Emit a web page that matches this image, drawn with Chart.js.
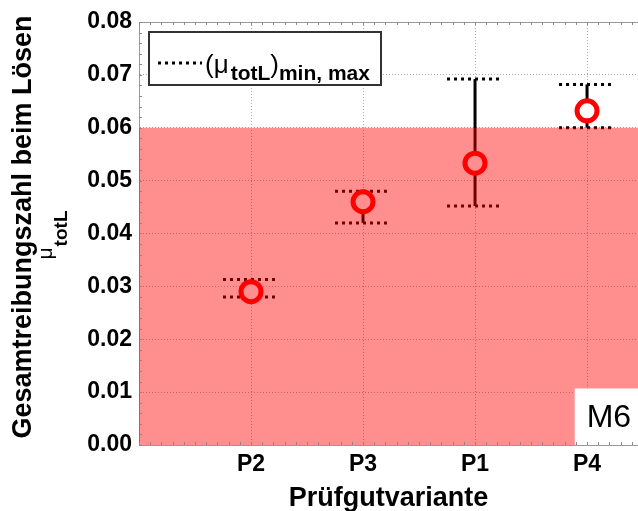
<!DOCTYPE html>
<html lang="de">
<head>
  <meta charset="UTF-8">
  <title>Gesamtreibungszahl beim Lösen</title>
  <script src="https://cdn.jsdelivr.net/npm/chart.js"></script>
  <style>
    html, body { margin: 0; padding: 0; background: #fff; }
    #wrap { width: 638px; height: 511px; position: relative; }
  </style>
</head>
<body>
  <div id="wrap"><canvas id="chart"></canvas></div>

  <script>
    // Werte
    const kategorien = ['P2', 'P3', 'P1', 'P4'];
    const mittelwerte = [0.029, 0.046, 0.0533, 0.0632];
    const minWerte = [0.028, 0.042, 0.0452, 0.060];
    const maxWerte = [0.0313, 0.048, 0.0692, 0.0682];
    const grenzwert = 0.06;
    const yTicks = [0, 0.01, 0.02, 0.03, 0.04, 0.05, 0.06, 0.07, 0.08];

    const X_MAX = 4.455;
    const FONT = '"Liberation Sans", Arial, sans-serif';

    // Fehlerbalken: senkrechte Linie + gepunktete Querstriche
    const fehlerbalken = {
      id: 'fehlerbalken',
      beforeDatasetDraw(chart, args) {
        if (args.index !== 1) return;
        const { ctx, scales: { x, y } } = chart;
        ctx.save();
        ctx.strokeStyle = '#000';
        ctx.lineWidth = 3;
        kategorien.forEach((k, i) => {
          const px = x.getPixelForValue(i + 1);
          const yMin = y.getPixelForValue(minWerte[i]);
          const yMax = y.getPixelForValue(maxWerte[i]);
          ctx.setLineDash([]);
          ctx.beginPath();
          ctx.moveTo(px, yMin);
          ctx.lineTo(px, yMax);
          ctx.stroke();
          const l = x.getPixelForValue(i + 1 - 0.25);
          const r = x.getPixelForValue(i + 1 + 0.25);
          ctx.setLineDash([3, 4]);
          [yMin, yMax].forEach(py => {
            ctx.beginPath();
            ctx.moveTo(l, py);
            ctx.lineTo(r, py);
            ctx.stroke();
          });
        });
        ctx.restore();
      }
    };

    // Rahmen, Nebenstriche, M6-Kasten, Legende und Achsentitel
    const deko = {
      id: 'deko',
      afterDraw(chart) {
        const { ctx, chartArea: a, scales: { x, y } } = chart;
        ctx.save();

        // M6 Kasten
        const bx = x.getPixelForValue(3.89);
        const by = y.getPixelForValue(0.0107);
        ctx.fillStyle = '#fff';
        ctx.fillRect(bx, by, a.right - bx, a.bottom - by);
        ctx.fillStyle = '#000';
        ctx.font = '32px ' + FONT;
        ctx.textBaseline = 'alphabetic';
        ctx.textAlign = 'left';
        ctx.fillText('M6', bx + 12, a.bottom - 18);

        // Rahmen oben
        ctx.strokeStyle = '#999';
        ctx.lineWidth = 1;
        ctx.beginPath();
        ctx.moveTo(a.left, a.top + 0.5);
        ctx.lineTo(a.right, a.top + 0.5);
        ctx.stroke();

        // Nebenstriche
        ctx.strokeStyle = '#888';
        ctx.beginPath();
        for (let v = 0; v <= X_MAX; v += 0.1) {
          const px = Math.round(x.getPixelForValue(v)) + 0.5;
          ctx.moveTo(px, a.bottom); ctx.lineTo(px, a.bottom - 3);
          ctx.moveTo(px, a.top); ctx.lineTo(px, a.top + 3);
        }
        for (let v = 0; v <= 0.0801; v += 0.002) {
          const py = Math.round(y.getPixelForValue(v)) + 0.5;
          ctx.moveTo(a.left, py); ctx.lineTo(a.left + 3, py);
        }
        ctx.stroke();

        // Legende
        ctx.fillStyle = '#fff';
        ctx.fillRect(149, 32, 232, 53);
        ctx.strokeStyle = '#333';
        ctx.lineWidth = 2;
        ctx.strokeRect(149, 32, 232, 53);
        ctx.strokeStyle = '#000';
        ctx.lineWidth = 3;
        ctx.setLineDash([3, 4]);
        ctx.beginPath();
        ctx.moveTo(158, 63);
        ctx.lineTo(202, 63);
        ctx.stroke();
        ctx.setLineDash([]);
        ctx.fillStyle = '#000';
        let tx = 205;
        ctx.font = '26px ' + FONT;
        ctx.fillText('(\u03BC', tx, 73);
        tx += ctx.measureText('(\u03BC').width + 2;
        ctx.font = 'bold 21px ' + FONT;
        ctx.fillText('totL', tx, 80);
        tx += ctx.measureText('totL').width;
        ctx.font = '26px ' + FONT;
        ctx.fillText(')', tx, 73);
        tx += ctx.measureText(')').width;
        ctx.font = 'bold 21px ' + FONT;
        ctx.fillText('min, max', tx, 80);

        // x-Achsentitel
        ctx.font = 'bold 27px ' + FONT;
        ctx.textAlign = 'center';
        ctx.fillText('Prüfgutvariante', (a.left + a.right) / 2, 506);

        // y-Achsentitel (zweizeilig, gedreht)
        ctx.save();
        ctx.translate(31, 227);
        ctx.rotate(-Math.PI / 2);
        ctx.font = 'bold 27px ' + FONT;
        ctx.fillText('Gesamtreibungszahl beim Lösen', 0, 0);
        ctx.restore();

        ctx.save();
        ctx.translate(0, 235);
        ctx.rotate(-Math.PI / 2);
        ctx.textAlign = 'left';
        ctx.font = '21px ' + FONT;
        const wMu = ctx.measureText('\u03BC').width;
        ctx.font = 'bold 19px ' + FONT;
        const wSub = ctx.measureText('totL').width;
        const start = -(wMu + wSub + 1) / 2;
        ctx.font = '21px ' + FONT;
        ctx.fillText('\u03BC', start, 52);
        ctx.font = 'bold 19px ' + FONT;
        ctx.fillText('totL', start + wMu + 1, 67);
        ctx.restore();

        ctx.restore();
      }
    };

    const ctx = document.getElementById('chart').getContext('2d');
    const chart = new Chart(ctx, {
      type: 'scatter',
      data: {
        datasets: [
          {
            type: 'line',
            data: [{ x: 0, y: grenzwert }, { x: X_MAX, y: grenzwert }],
            showLine: true,
            borderWidth: 0,
            pointRadius: 0,
            fill: 'origin',
            backgroundColor: 'rgba(255, 0, 0, 0.44)'
          },
          {
            data: kategorien.map((k, i) => ({ x: i + 1, y: mittelwerte[i] })),
            pointRadius: 10,
            pointBorderWidth: 5,
            borderColor: '#ff0000',
            backgroundColor: '#ffffff'
          }
        ]
      },
      options: {
        responsive: true,
        maintainAspectRatio: false,
        animation: false,
        layout: { autoPadding: false, padding: { top: 22, right: 0, left: 0, bottom: 0 } },
        plugins: {
          legend: { display: false },
          tooltip: { enabled: false }
        },
        scales: {
          x: {
            type: 'linear',
            min: 0,
            max: X_MAX,
            afterBuildTicks: s => { s.ticks = kategorien.map((k, i) => ({ value: i + 1 })); },
            afterFit: s => { s.height = 66; s.paddingLeft = 0; s.paddingRight = 0; },
            ticks: {
              callback: v => kategorien[v - 1],
              color: '#000',
              padding: 6,
              font: { family: FONT, size: 23, weight: 'bold' }
            },
            grid: { color: '#aaa', drawTicks: false },
            border: { color: '#999', dash: [1, 2] }
          },
          y: {
            min: 0,
            max: 0.08,
            afterBuildTicks: s => { s.ticks = yTicks.map(v => ({ value: v })); },
            afterFit: s => { s.width = 139; s.paddingTop = 0; s.paddingBottom = 0; },
            ticks: {
              callback: v => v.toFixed(2),
              color: '#000',
              padding: 7,
              font: { family: FONT, size: 23, weight: 'bold' }
            },
            grid: { color: '#aaa', drawTicks: false },
            border: { color: '#999', dash: [1, 2] }
          }
        }
      },
      plugins: [fehlerbalken, deko]
    });
  </script>
</body>
</html>
